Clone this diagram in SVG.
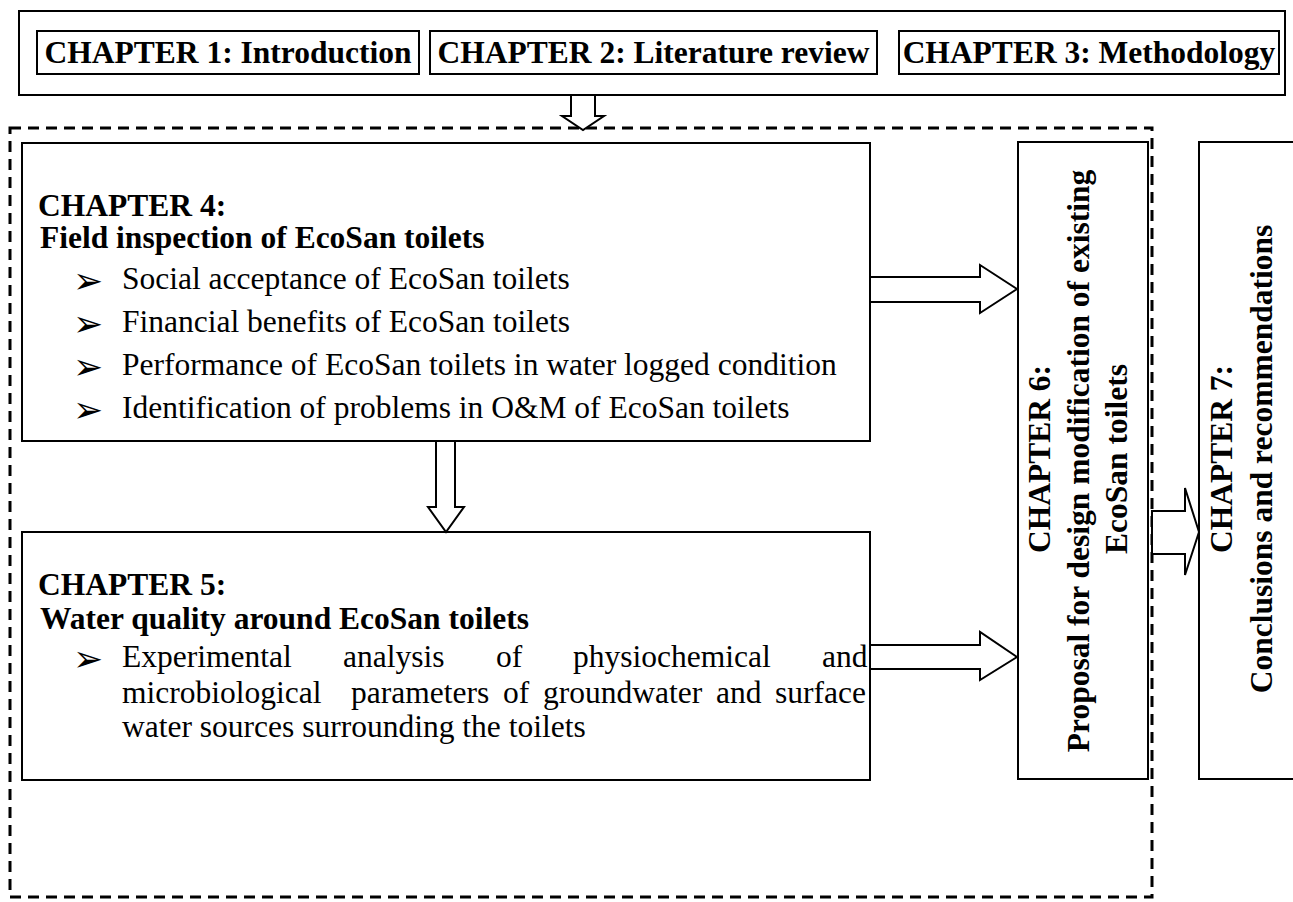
<svg xmlns="http://www.w3.org/2000/svg" width="1293" height="902" viewBox="0 0 1293 902">
<style>
.box{fill:#fff;stroke:#000;stroke-width:2}
.dash{fill:none;stroke:#000;stroke-width:3;stroke-dasharray:11 7}
.arr{fill:#fff;stroke:#000;stroke-width:2;stroke-linejoin:miter}
.b{font-family:"Liberation Serif","Times New Roman",serif;font-weight:bold;font-size:31.5px;fill:#000}
.r{font-family:"Liberation Serif","Times New Roman",serif;font-size:31.5px;fill:#000}
.bul{font-family:"DejaVu Sans",sans-serif;font-size:36px;fill:#000}
</style>
<rect width="1293" height="902" fill="#fff"/>
<g id="top">
<rect class="box" x="19" y="11" width="1266" height="84"/>
</g>
<g id="ch1"><rect class="box" x="37" y="31" width="382" height="43"/><text class="b" x="228" y="63" text-anchor="middle">CHAPTER 1: Introduction</text></g>
<g id="ch2"><rect class="box" x="430" y="31" width="447" height="43"/><text class="b" x="653.5" y="63" text-anchor="middle">CHAPTER 2: Literature review</text></g>
<g id="ch3"><rect class="box" x="899" y="31" width="380" height="43"/><text class="b" x="1089" y="63" text-anchor="middle">CHAPTER 3: Methodology</text></g>
<g id="group"><rect class="dash" x="10" y="128" width="1142" height="769"/></g>
<g id="ch4">
<rect class="box" x="22" y="143" width="848" height="298"/>
<text class="b" x="38" y="216">CHAPTER 4:</text>
<text class="b" x="40" y="248">Field inspection of EcoSan toilets</text>
<text class="bul" x="73" y="293">➢</text><text class="r" x="122" y="289">Social acceptance of EcoSan toilets</text>
<text class="bul" x="73" y="336">➢</text><text class="r" x="122" y="332">Financial benefits of EcoSan toilets</text>
<text class="bul" x="73" y="379">➢</text><text class="r" x="122" y="375">Performance of EcoSan toilets in water logged condition</text>
<text class="bul" x="73" y="422">➢</text><text class="r" x="122" y="418">Identification of problems in O&amp;M of EcoSan toilets</text>
</g>
<g id="ch5">
<rect class="box" x="22" y="532" width="848" height="248"/>
<text class="b" x="38" y="595">CHAPTER 5:</text>
<text class="b" x="40" y="629">Water quality around EcoSan toilets</text>
<text class="bul" x="73" y="671">➢</text>
<text class="r" y="667"><tspan x="122">Experimental</tspan><tspan x="343">analysis</tspan><tspan x="496">of</tspan><tspan x="573">physiochemical</tspan><tspan x="822">and</tspan></text>
<text class="r" y="703"><tspan x="122">microbiological</tspan><tspan x="351">parameters</tspan><tspan x="503">of</tspan><tspan x="543">groundwater</tspan><tspan x="716">and</tspan><tspan x="775">surface</tspan></text>
<text class="r" x="122" y="737">water sources surrounding the toilets</text>
</g>
<g id="ch6">
<rect class="box" x="1018" y="142" width="130" height="637"/>
<text class="b" transform="translate(1050,459) rotate(-90)" text-anchor="middle">CHAPTER 6:</text>
<text class="b" transform="translate(1089,461) rotate(-90)" text-anchor="middle">Proposal for design modification of existing</text>
<text class="b" transform="translate(1127,459) rotate(-90)" text-anchor="middle">EcoSan toilets</text>
</g>
<g id="ch7">
<rect class="box" x="1199" y="142" width="110" height="637"/>
<text class="b" transform="translate(1232,459) rotate(-90)" text-anchor="middle">CHAPTER 7:</text>
<text class="b" transform="translate(1272,459) rotate(-90)" text-anchor="middle">Conclusions and recommendations</text>
</g>
<g id="connectors">
<polygon class="arr" points="571,95 571,116 562,116 583,130 604,116 595,116 595,95"/>
<polygon class="arr" points="436,441 436,507 428,507 446,532 464,507 455,507 455,441"/>
<polygon class="arr" points="870,277 980,277 980,265 1017,289 980,313 980,302 870,302"/>
<polygon class="arr" points="870,645 980,645 980,632 1017,657 980,680 980,669 870,669"/>
<polygon class="arr" points="1152,511 1185,511 1185,488 1199,532 1185,575 1185,554 1152,554"/>
</g>
</svg>
